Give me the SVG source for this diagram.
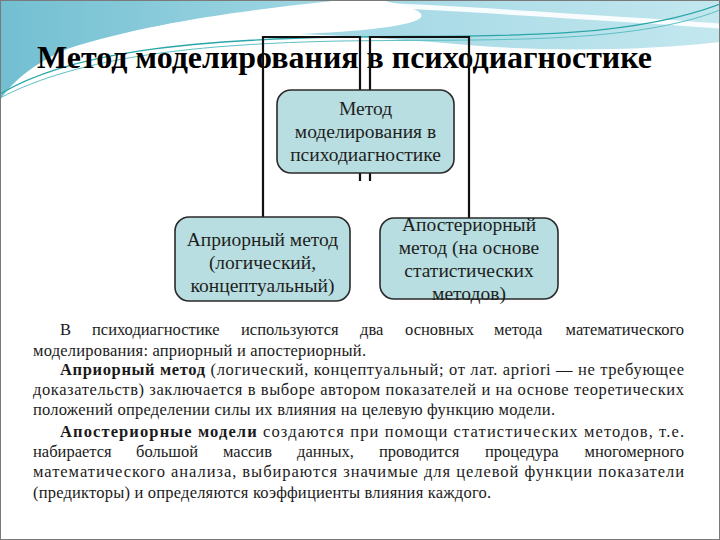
<svg xmlns="http://www.w3.org/2000/svg" width="720" height="540" viewBox="0 0 720 540">
<defs>
<linearGradient id="gl" x1="0" y1="0" x2="1" y2="0">
<stop offset="0" stop-color="#72bfd2"/>
<stop offset="1" stop-color="#a3d8e4"/>
</linearGradient>
<linearGradient id="gr" x1="0" y1="0" x2="1" y2="0">
<stop offset="0" stop-color="#9fd6e3"/>
<stop offset="1" stop-color="#c3e7ef"/>
</linearGradient>
<style>
.node rect{fill:#b8dee1;stroke:#2a2a2a;stroke-width:1.6}
.nt{font-family:"Liberation Serif","Times New Roman",serif;font-size:19.5px;fill:#1e1e1e;text-anchor:middle}
.conn path{fill:none;stroke:#111;stroke-width:2.2}
.b{font-family:"Liberation Serif","Times New Roman",serif;font-size:16.5px;fill:#1a1a1a}
.bb{font-weight:bold}
.e{text-anchor:end}
</style>
</defs>
<rect x="0" y="0" width="720" height="540" fill="#ffffff"/>
<g id="background">
<path d="M0,0 H345 C260,8 150,22 70,48 C40,60 15,78 0,100 Z" fill="url(#gl)"/>
<path d="M380,0 H720 V42 C650,50 560,52 480,46 C420,41 360,36 300,34 C400,30 470,18 380,0 Z" fill="url(#gr)"/>
<path d="M330,2 C430,8 560,14 720,26" fill="none" stroke="#ffffff" stroke-width="5" opacity="0.9"/>
<path d="M0,94 C70,52 190,40 340,37 C480,35 620,42 720,4" fill="none" stroke="#2aa6a8" stroke-width="1.3"/>
<path d="M0,98 C80,56 200,44 340,41 C490,39 630,45 720,10" fill="none" stroke="#5cc0c4" stroke-width="1"/>
<rect x="0.5" y="0.5" width="719" height="539" fill="none" stroke="#7a7a7a" stroke-width="1"/>
</g>
<text id="title" x="37" y="68" font-family="'Liberation Serif','Times New Roman',serif" font-size="31" font-weight="bold" fill="#000" textLength="615" lengthAdjust="spacingAndGlyphs">Метод моделирования в психодиагностике</text>
<g id="connectors" class="conn">
<path d="M360,90 V37 H263 V217"/>
<path d="M370,90 V37 H469 V218"/>
<path d="M360,173 V181"/>
<path d="M370,173 V181"/>
</g>
<g id="node-main" class="node">
<rect x="277" y="90" width="177" height="83" rx="14"/>
<text class="nt" x="365.5" y="115">Метод</text>
<text class="nt" x="365.5" y="138">моделирования в</text>
<text class="nt" x="365.5" y="161">психодиагностике</text>
</g>
<g id="node-apriori" class="node">
<rect x="175" y="217" width="175" height="84" rx="14"/>
<text class="nt" x="262.5" y="246">Априорный метод</text>
<text class="nt" x="262.5" y="269">(логический,</text>
<text class="nt" x="262.5" y="292">концептуальный)</text>
</g>
<g id="node-aposteriori" class="node">
<rect x="380" y="218" width="178" height="81" rx="14"/>
<text class="nt" x="469" y="231">Апостериорный</text>
<text class="nt" x="469" y="254">метод (на основе</text>
<text class="nt" x="469" y="277">статистических</text>
<text class="nt" x="469" y="300">методов)</text>
</g>
<g id="body-text">
<text class="b" x="60" y="335">В</text>
<text class="b" x="92" y="335">психодиагностике</text>
<text class="b" x="241" y="335">используются</text>
<text class="b" x="360" y="335">два</text>
<text class="b" x="405" y="335">основных</text>
<text class="b" x="494" y="335">метода</text>
<text class="b e" x="684" y="335">математического</text>
<text class="b" x="33" y="356" textLength="333" lengthAdjust="spacing">моделирования: априорный и апостериорный.</text>
<text class="b" x="60" y="375" textLength="624" lengthAdjust="spacing"><tspan class="bb">Априорный метод</tspan> (логический, концептуальный; от лат. apriori — не требующее</text>
<text class="b" x="33" y="395" textLength="651" lengthAdjust="spacing">доказательств) заключается в выборе автором показателей и на основе теоретических</text>
<text class="b" x="33" y="415" textLength="522" lengthAdjust="spacing">положений определении силы их влияния на целевую функцию модели.</text>
<text class="b" x="60" y="437" textLength="624" lengthAdjust="spacing"><tspan class="bb">Апостериорные модели</tspan> создаются при помощи статистических методов, т.е.</text>
<text class="b" x="33" y="457">набирается</text>
<text class="b" x="136" y="457">большой</text>
<text class="b" x="223" y="457">массив</text>
<text class="b" x="297" y="457">данных,</text>
<text class="b" x="379" y="457">проводится</text>
<text class="b" x="485" y="457">процедура</text>
<text class="b e" x="684" y="457">многомерного</text>
<text class="b" x="33" y="477" textLength="651" lengthAdjust="spacing">математического анализа, выбираются значимые для целевой функции показатели</text>
<text class="b" x="33" y="498" textLength="458" lengthAdjust="spacing">(предикторы) и определяются коэффициенты влияния каждого.</text>
</g>
</svg>
